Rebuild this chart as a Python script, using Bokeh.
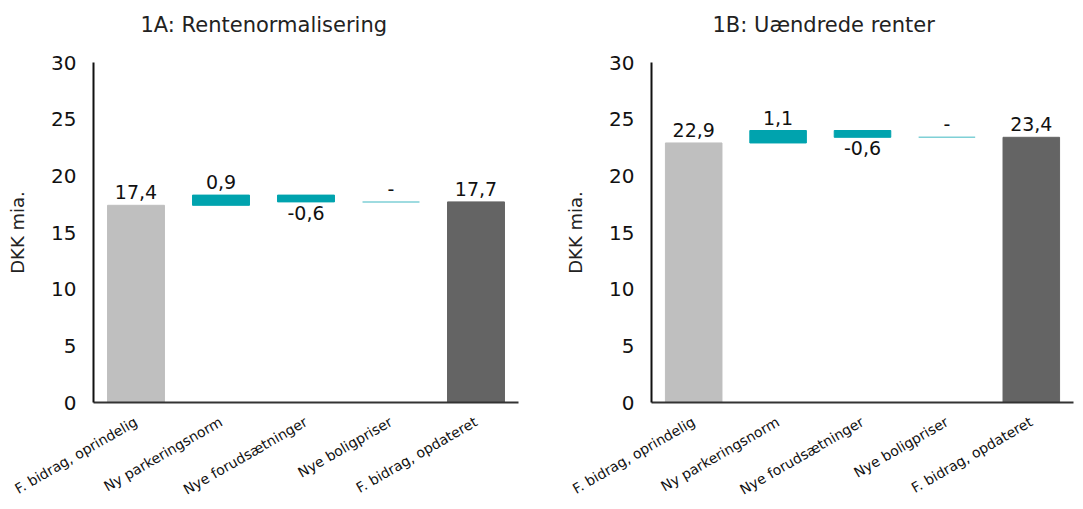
import math
from bokeh.plotting import figure
from bokeh.layouts import row
from bokeh.models import ColumnDataSource, FactorRange, Range1d, FixedTicker, Title
from bokeh.core.properties import value
from bokeh.embed import file_html
from bokeh.resources import INLINE

categories = ["F. bidrag, oprindelig", "Ny parkeringsnorm", "Nye forudsætninger",
              "Nye boligpriser", "F. bidrag, opdateret"]
titles = ["1A: Rentenormalisering", "1B: Uændrede renter"]
start_a = 17.4
changes_a = [0.9, -0.6, 0.0]
end_a = 17.7
start_b = 22.9
changes_b = [1.1, -0.6, 0.0]
end_b = 23.4
y_ticks = [0, 5, 10, 15, 20, 25, 30]
y_label = "DKK mia."

GRAY = "#bfbfbf"
DARK = "#646464"
TEAL = "#00a3ae"
LIGHT = "#7fd0d6"
FONT = "DejaVu Sans"


def fmt(v):
    if v == 0:
        return "-"
    return f"{v:.1f}".replace(".", ",")


def make_panel(title, start, changes, end, width, bl, br, toff):
    p = figure(x_range=FactorRange(factors=categories), y_range=Range1d(0, 30),
               width=width, height=508, output_backend="svg", toolbar_location=None,
               min_border_left=bl, min_border_right=br, min_border_top=62,
               min_border_bottom=106)
    # spacer between plot area and title
    p.add_layout(Title(text=" ", text_font_size="1px", standoff=23), "above")
    p.add_layout(Title(text=title, text_font=FONT, text_font_size="21px",
                       text_font_style="normal", text_color="#222222",
                       align="left", offset=toff, standoff=0), "above")

    # totals
    tot = ColumnDataSource(dict(x=[categories[0], categories[-1]], top=[start, end],
                                color=[GRAY, DARK]))
    p.vbar(x="x", top="top", bottom=0, width=0.67, color="color", source=tot)

    # changes
    level = start
    cx, cb, ct, zx, zy = [], [], [], [], []
    ab_x, ab_y, ab_t = [categories[0], categories[-1]], [start, end], [fmt(start), fmt(end)]
    be_x, be_y, be_t = [], [], []
    for cat, ch in zip(categories[1:-1], changes):
        new = level + ch
        if ch == 0:
            zx.append(cat); zy.append(level)
            ab_x.append(cat); ab_y.append(level); ab_t.append(fmt(ch))
        else:
            cx.append(cat); cb.append(min(level, new)); ct.append(max(level, new))
            if ch > 0:
                ab_x.append(cat); ab_y.append(new); ab_t.append(fmt(ch))
            else:
                be_x.append(cat); be_y.append(new); be_t.append(fmt(ch))
        level = new

    p.vbar(x=cx, top=ct, bottom=cb, width=0.67, color=TEAL)
    p.vbar(x=zx, top=zy, bottom=zy, width=0.67, fill_color=None,
           line_color=LIGHT, line_width=1.5)

    p.text(x=ab_x, y=ab_y, text=ab_t, text_align="center", text_baseline="bottom",
           y_offset=-6, text_font=value(FONT), text_font_size="19px", text_color="#111111")
    p.text(x=be_x, y=be_y, text=be_t, text_align="center", text_baseline="top",
           y_offset=4, text_font=value(FONT), text_font_size="19px", text_color="#111111")

    p.xgrid.grid_line_color = None
    p.ygrid.grid_line_color = None
    p.outline_line_color = None

    p.yaxis.ticker = FixedTicker(ticks=y_ticks)
    p.yaxis.axis_label = y_label
    p.yaxis.axis_label_text_font = FONT
    p.yaxis.axis_label_text_font_size = "18px"
    p.yaxis.axis_label_text_font_style = "normal"
    p.yaxis.axis_label_text_color = "#222222"
    p.yaxis.axis_label_standoff = 20
    p.yaxis.major_label_text_font = FONT
    p.yaxis.major_label_text_font_size = "20px"
    p.yaxis.major_label_text_color = "#111111"
    p.yaxis.major_label_standoff = 11
    p.yaxis.major_tick_line_color = None
    p.yaxis.minor_tick_line_color = None
    p.yaxis.axis_line_color = "#111111"
    p.yaxis.axis_line_width = 2

    p.xaxis.major_label_orientation = math.pi / 6
    p.xaxis.major_label_text_font = "DejaVu Sans"
    p.xaxis.major_label_text_font_size = "14px"
    p.xaxis.major_label_text_color = "#111111"
    p.xaxis.major_label_standoff = 12
    p.xaxis.major_tick_line_color = None
    p.xaxis.minor_tick_line_color = None
    p.xaxis.axis_line_color = "#333333"
    p.xaxis.axis_line_width = 2
    return p


pa = make_panel(titles[0], start_a, changes_a, end_a, 540, 93, 22, 47)
pb = make_panel(titles[1], start_b, changes_b, end_b, 542, 111, 9, 61)
layout = row(pa, pb)

open("out.html", "w").write(file_html(layout, INLINE))
